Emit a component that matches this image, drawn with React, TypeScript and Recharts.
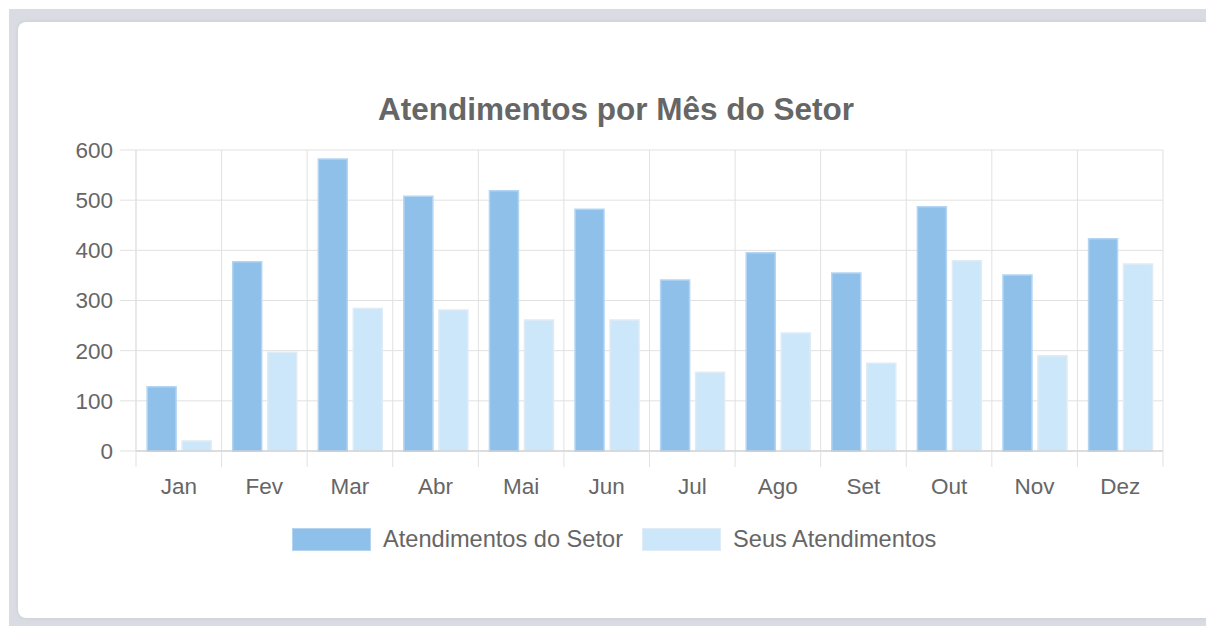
import React from "react";
import { BarChart, Bar, XAxis, YAxis, CartesianGrid } from "recharts";

const months = ["Jan", "Fev", "Mar", "Abr", "Mai", "Jun", "Jul", "Ago", "Set", "Out", "Nov", "Dez"];
const setorValues = [128, 377, 582, 508, 519, 482, 341, 395, 355, 487, 351, 423];
const seusValues = [20, 197, 284, 281, 261, 261, 157, 235, 175, 379, 190, 373];
const yTicks = [0, 100, 200, 300, 400, 500, 600];

const series = [
  { key: "setor", name: "Atendimentos do Setor", fill: "#8fc0ea", stroke: "#b4d5f2" },
  { key: "seus", name: "Seus Atendimentos", fill: "#cce6fa", stroke: "#dfebf5" },
];

const data = months.map((m, i) => ({ month: m, setor: setorValues[i], seus: seusValues[i] }));

const font = "'Liberation Sans', Arial, Helvetica, sans-serif";
const textColor = "#666";
const gridColor = "#e1e1e1";
const TICK_LEN = 16;

// grid lines sit between the months (chart.js "offset" style)
const monthBoundaries = ({ offset }: any) =>
  months.concat("").map((_, i) => offset.left + (i * offset.width) / months.length);

// month label + the little tick mark on the left edge of each band
function MonthTick(props: any) {
  const { x, y, payload, index, width, visibleTicksCount } = props;
  const step = width / visibleTicksCount;
  const axisY = y - TICK_LEN - 11;
  const left = x - step / 2;
  return (
    <g>
      <line x1={left} x2={left} y1={axisY} y2={axisY + TICK_LEN} stroke={gridColor} />
      {index === visibleTicksCount - 1 && (
        <line x1={x + step / 2} x2={x + step / 2} y1={axisY} y2={axisY + TICK_LEN} stroke={gridColor} />
      )}
      <text x={x} y={y} dy="0.71em" textAnchor="middle" fill={textColor} fontSize={22.5} fontFamily={font}>
        {payload.value}
      </text>
    </g>
  );
}

export default function App() {
  return (
    <div
      style={{
        position: "absolute",
        left: 0,
        top: 0,
        width: 1206,
        height: 626,
        overflow: "hidden",
        background: "#fff",
        fontFamily: font,
      }}
    >
      <div style={{ position: "absolute", left: 9, top: 9, right: 0, bottom: 0, background: "#d9dde3" }} />
      <div
        style={{
          position: "absolute",
          left: 18,
          top: 22,
          width: 1230,
          height: 596,
          background: "#fff",
          borderRadius: 8,
          boxShadow: "0 0 4px rgba(0,0,0,0.08)",
        }}
      />
      <div
        style={{
          position: "absolute",
          left: 316,
          width: 600,
          top: 94,
          textAlign: "center",
          fontSize: 31.5,
          lineHeight: 1,
          fontWeight: "bold",
          color: textColor,
        }}
      >
        Atendimentos por Mês do Setor
      </div>

      <div style={{ position: "absolute", left: 0, top: 0 }}>
        <BarChart
          width={1206}
          height={626}
          data={data}
          margin={{ top: 150, right: 43, left: 0, bottom: 115 }}
          barCategoryGap="13%"
          barGap={6}
        >
          <CartesianGrid stroke={gridColor} verticalCoordinatesGenerator={monthBoundaries} />
          <XAxis
            dataKey="month"
            height={60}
            tickLine={false}
            tickSize={TICK_LEN}
            tickMargin={11}
            axisLine={{ stroke: "#c8c8c8" }}
            tick={<MonthTick />}
            interval={0}
          />
          <YAxis
            width={136}
            domain={[0, 600]}
            ticks={yTicks}
            tickSize={TICK_LEN}
            tickMargin={7}
            tickLine={{ stroke: gridColor }}
            axisLine={{ stroke: gridColor }}
            tick={{ fill: textColor, fontSize: 22.5, fontFamily: font }}
          />
          {series.map((s) => (
            <Bar
              key={s.key}
              dataKey={s.key}
              name={s.name}
              fill={s.fill}
              stroke={s.stroke}
              strokeWidth={1.5}
              isAnimationActive={false}
            />
          ))}
        </BarChart>
      </div>

      <div
        style={{
          position: "absolute",
          left: 292,
          top: 527,
          height: 24,
          display: "flex",
          alignItems: "center",
          fontSize: 23.6,
          lineHeight: "24px",
          color: textColor,
        }}
      >
        {series.map((s, i) => (
          <div key={s.key} style={{ display: "flex", alignItems: "center", marginLeft: i === 0 ? 0 : 19 }}>
            <div
              style={{
                width: 77,
                height: 21,
                background: s.fill,
                border: `1.5px solid ${s.stroke}`,
                marginRight: 12,
              }}
            />
            <span>{s.name}</span>
          </div>
        ))}
      </div>
    </div>
  );
}
